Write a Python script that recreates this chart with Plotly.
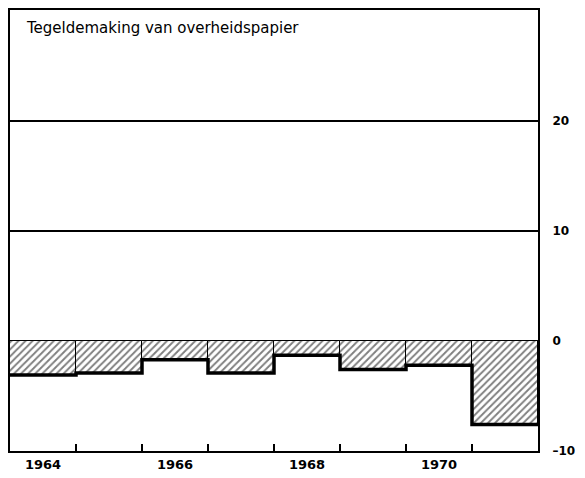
import plotly.graph_objects as go

years = [1964, 1965, 1966, 1967, 1968, 1969, 1970, 1971]
values = [-3.1, -2.9, -1.7, -2.9, -1.3, -2.6, -2.2, -7.6]
year_labels = [1964, 1966, 1968, 1970]
y_ticks = [-10, 0, 10, 20]
y_tick_text = ["\u201310", "0", "10", "20"]
title_text = "Tegeldemaking van overheidspapier"

fig = go.Figure()

fig.add_trace(go.Bar(
    x=years, y=values, width=1,
    marker=dict(color="white",
                line=dict(color="black", width=1),
                pattern=dict(shape="/", fgcolor="black", bgcolor="white",
                             size=5, solidity=0.38)),
    showlegend=False, hoverinfo="skip",
))

# thick step line along bar bottoms
step_x = [years[0] - 0.5] + years + [years[-1] + 0.5]
step_y = [values[0]] + values + [values[-1]]
fig.add_trace(go.Scatter(
    x=step_x, y=step_y, mode="lines", line=dict(color="black", width=3.5, shape="hvh"),
    showlegend=False, hoverinfo="skip",
))

# invisible trace on overlay axis for tick marks at year boundaries
bounds = [y + 0.5 for y in years[:-1]]
fig.add_trace(go.Scatter(x=bounds, y=[0] * len(bounds), xaxis="x2", mode="markers",
                         marker=dict(opacity=0), showlegend=False, hoverinfo="skip"))

fig.update_layout(
    width=585, height=478,
    margin=dict(l=10, r=47, t=10, b=27),
    paper_bgcolor="white", plot_bgcolor="white",
    bargap=0,
    xaxis=dict(range=[years[0] - 0.5, years[-1] + 0.5], tickvals=year_labels,
               ticktext=[str(y) for y in year_labels], ticks="", showgrid=False,
               showline=True, linecolor="black", linewidth=2, mirror=True,
               automargin=False,
               tickfont=dict(family="DejaVu Sans", size=13, color="black", weight="bold"),
               zeroline=False),
    xaxis2=dict(range=[years[0] - 0.5, years[-1] + 0.5], overlaying="x", anchor="y",
                tickvals=bounds, ticks="inside", ticklen=7, tickwidth=1.5, tickcolor="black",
                showticklabels=False, showgrid=False, showline=False, zeroline=False,
                automargin=False),
    yaxis=dict(range=[-10, 30.1], side="right", tickvals=y_ticks, ticktext=y_tick_text,
               showgrid=True, gridcolor="black", gridwidth=1.5,
               showline=True, linecolor="black", linewidth=2, mirror=True,
               ticks="outside", ticklen=10, tickcolor="rgba(0,0,0,0)",
               automargin=False,
               tickfont=dict(family="DejaVu Sans", size=12, color="black", weight="bold"),
               zeroline=True, zerolinecolor="black", zerolinewidth=1.5),
    annotations=[dict(text=title_text, xref="paper", yref="paper", x=0.027, y=0.985,
                      xanchor="left", yanchor="top", showarrow=False,
                      font=dict(family="DejaVu Sans", size=15, color="black"))],
)

fig.write_html("out.html", config={"displayModeBar": False},
               post_script="document.body.style.margin='0';document.body.style.overflow='hidden';")
